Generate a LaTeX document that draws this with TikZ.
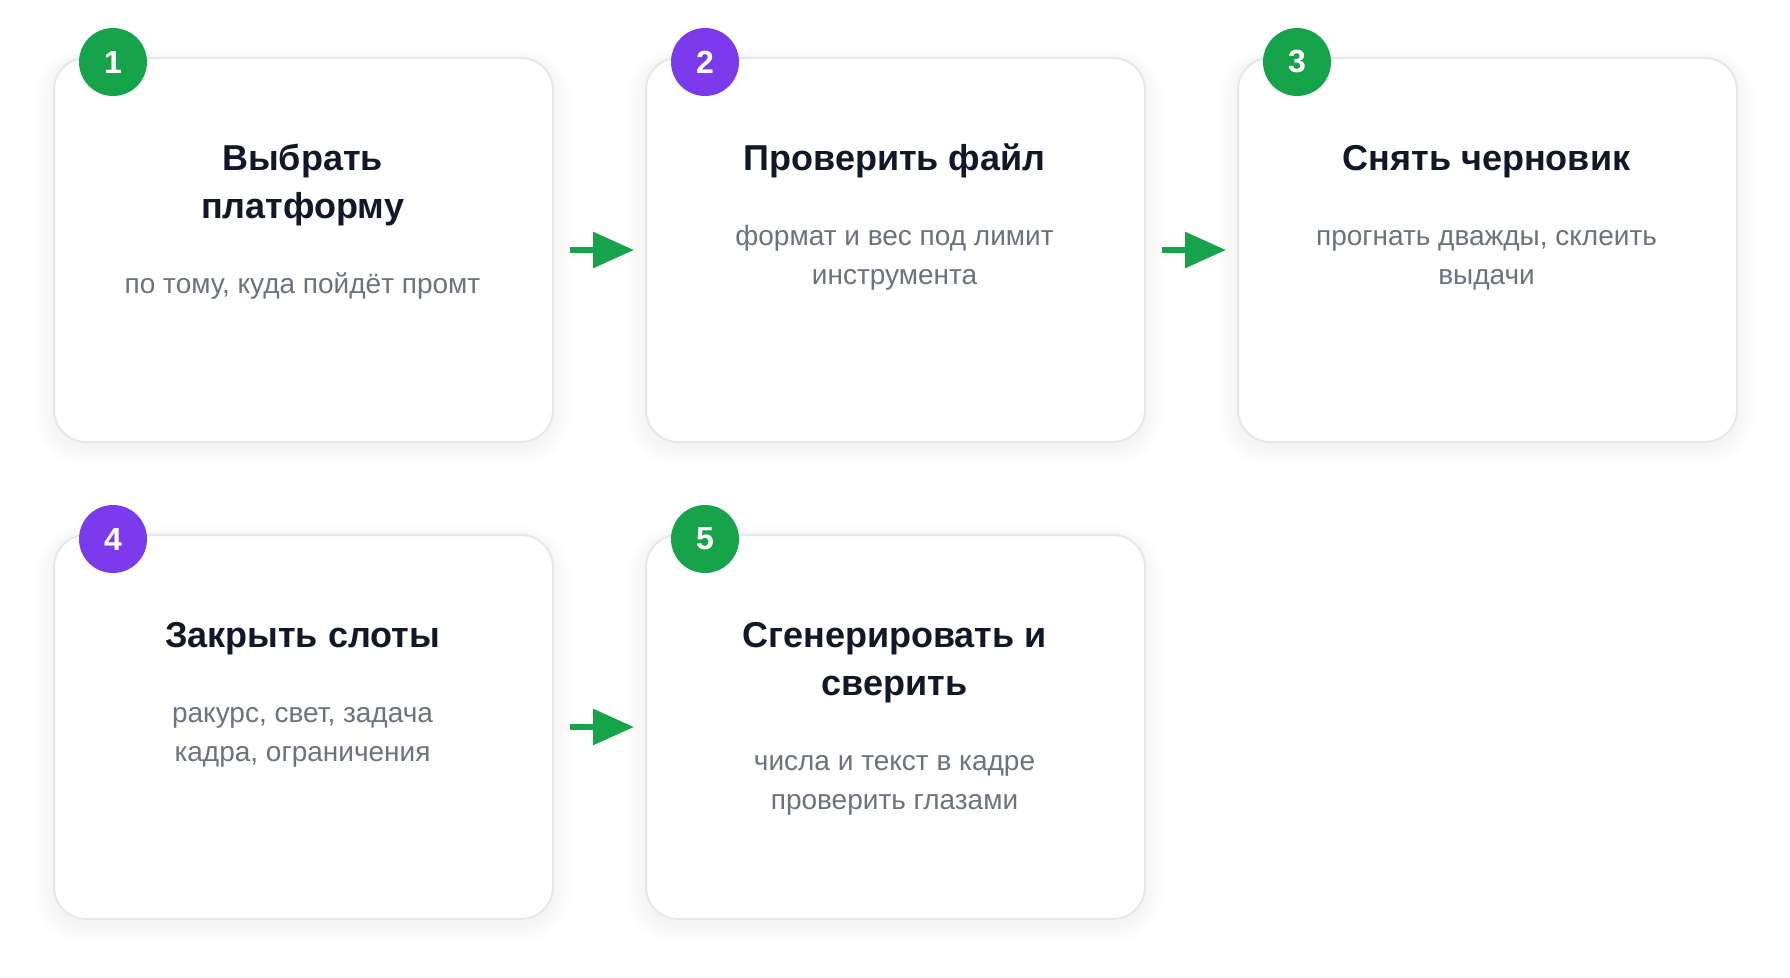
\documentclass[tikz,border=0pt]{standalone}
\usepackage{fontspec}
\setmainfont{Liberation Sans}
\usetikzlibrary{arrows.meta}
\definecolor{stepgreen}{HTML}{16A34A}
\definecolor{steppurple}{HTML}{7C3AED}
\definecolor{titlecol}{HTML}{111827}
\definecolor{subcol}{HTML}{6B7280}
\definecolor{cardline}{HTML}{E5E7EB}
\newcommand{\cardshadow}[2]{%
  \foreach \i in {1,...,10}{%
    \pgfmathsetmacro{\rr}{32+\i*2}%
    \fill[black, opacity=0.0042, rounded corners=\rr pt]
      ({#1-\i*2},{#2+3-\i*1.2}) rectangle ({#1+499+\i*2},{#2+384+6+\i*2});
  }%
}
\begin{document}
\begin{tikzpicture}[x=1pt,y=-1pt,
  card/.style={draw=cardline, line width=2pt, fill=white, rounded corners=32pt,
    minimum width=499pt, minimum height=384pt, inner sep=0pt, anchor=north west},
  badge/.style={circle, minimum size=68pt, inner sep=0pt, text=white,
    font=\bfseries\fontsize{32}{38}\selectfont},
  titletext/.style={anchor=base, inner sep=0pt, text=titlecol,
    font=\bfseries\fontsize{36}{48}\selectfont},
  subtext/.style={anchor=base, inner sep=0pt, text=subcol,
    font=\fontsize{28}{39}\selectfont},
  flowarrow/.style={draw=stepgreen, line width=6pt,
    -{Triangle[length=41pt, width=35pt]}, shorten <=16pt, shorten >=11pt}
]
\useasboundingbox[fill=white] (0,0) rectangle (1790,977);

% shadows
\cardshadow{53}{57}
\cardshadow{645}{57}
\cardshadow{1237}{57}
\cardshadow{53}{534}
\cardshadow{645}{534}

% cards
\node[card] (b1) at (53,57) {};
\node[card] (b2) at (645,57) {};
\node[card] (b3) at (1237,57) {};
\node[card] (b4) at (53,534) {};
\node[card] (b5) at (645,534) {};

% badges
\node[badge, fill=stepgreen] (n1) at (113,62) {1};
\node[badge, fill=steppurple] (n2) at (705,62) {2};
\node[badge, fill=stepgreen] (n3) at (1297,62) {3};
\node[badge, fill=steppurple] (n4) at (113,539) {4};
\node[badge, fill=stepgreen] (n5) at (705,539) {5};

% card 1
\node[titletext] (t1a) at (302.5,170.5) {Выбрать};
\node[titletext] (t1b) at (302.5,218.5) {платформу};
\node[subtext] (s1a) at (302.5,293.5) {по тому, куда пойдёт промт};

% card 2
\node[titletext] (t2a) at (894.5,170.5) {Проверить файл};
\node[subtext] (s2a) at (894.5,245.5) {формат и вес под лимит};
\node[subtext] (s2b) at (894.5,284.5) {инструмента};

% card 3
\node[titletext] (t3a) at (1486.5,170.5) {Снять черновик};
\node[subtext] (s3a) at (1486.5,245.5) {прогнать дважды, склеить};
\node[subtext] (s3b) at (1486.5,284.5) {выдачи};

% card 4
\node[titletext] (t4a) at (302.5,647.5) {Закрыть слоты};
\node[subtext] (s4a) at (302.5,722.5) {ракурс, свет, задача};
\node[subtext] (s4b) at (302.5,761.5) {кадра, ограничения};

% card 5
\node[titletext] (t5a) at (894.5,647.5) {Сгенерировать и};
\node[titletext] (t5b) at (894.5,695.5) {сверить};
\node[subtext] (s5a) at (894.5,770.5) {числа и текст в кадре};
\node[subtext] (s5b) at (894.5,809.5) {проверить глазами};

% arrows
\draw[flowarrow] (b1.east) -- (b2.west);
\draw[flowarrow] (b2.east) -- (b3.west);
\draw[flowarrow] (b4.east) -- (b5.west);
\end{tikzpicture}
\end{document}
